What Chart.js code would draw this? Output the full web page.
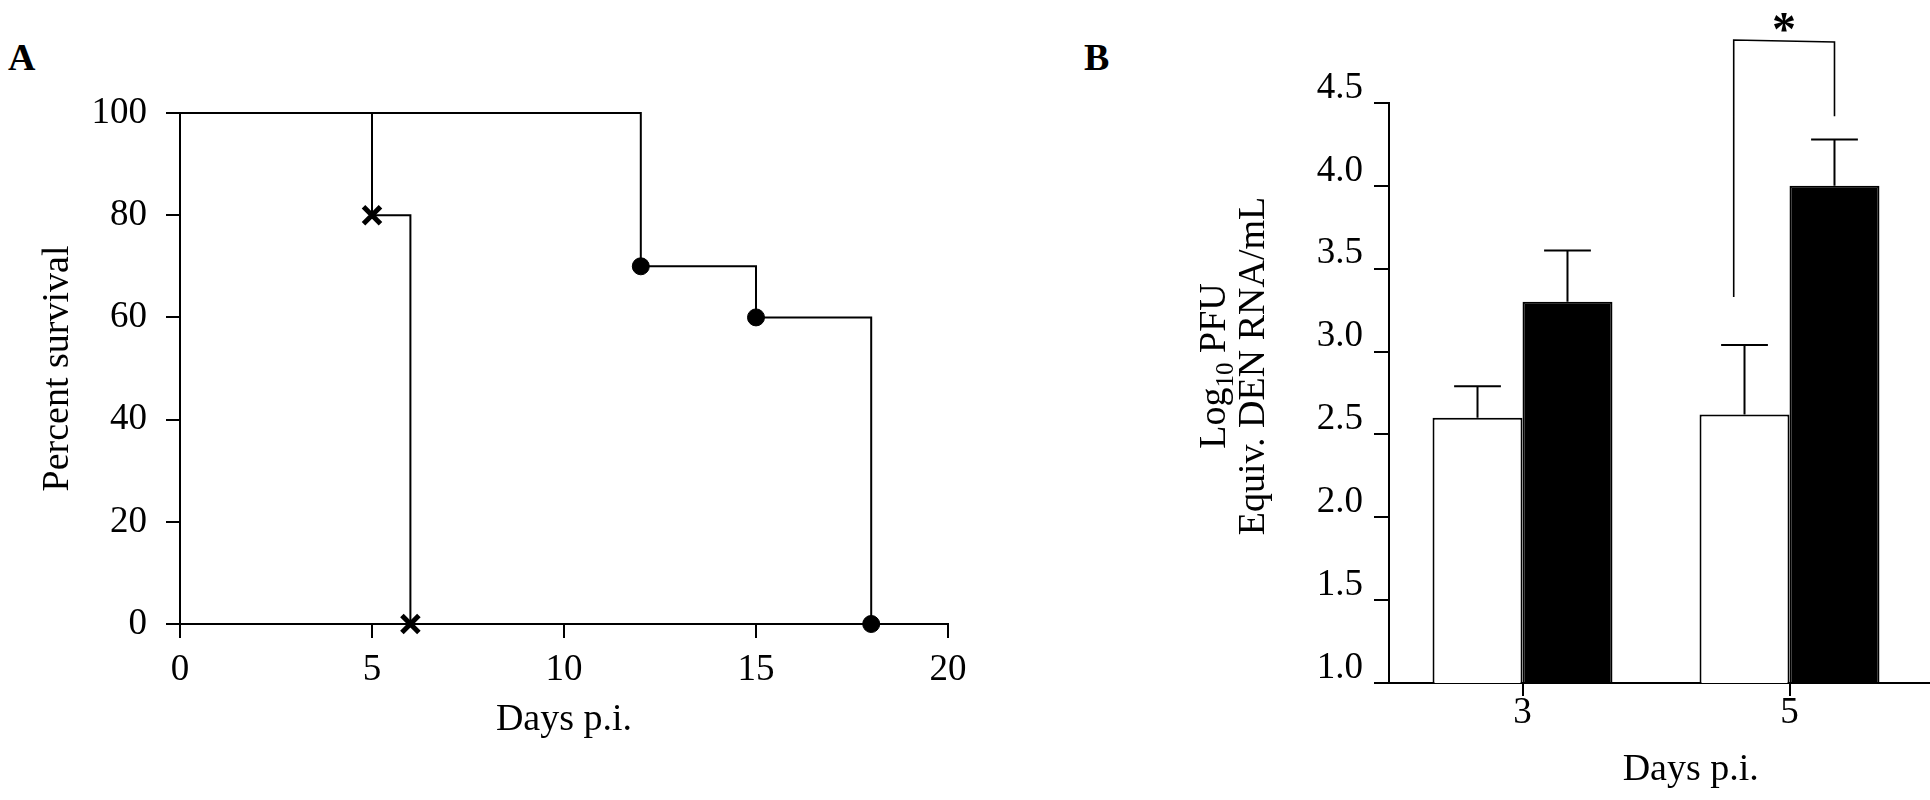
<!DOCTYPE html>
<html><head><meta charset="utf-8">
<script src="https://cdn.jsdelivr.net/npm/chart.js@4.4.1/dist/chart.umd.min.js"></script>
<style>
html,body{margin:0;padding:0;background:#fff;}
body{width:1930px;height:800px;position:relative;overflow:hidden;}
canvas{position:absolute;top:0;}
#cA{left:0;} #cB{left:1000px;}
.lbl{position:absolute;font:bold 38px "Liberation Serif";line-height:38px;color:#000;}
</style></head><body>
<div class="lbl" style="left:8px;top:38px">A</div>
<div class="lbl" style="left:1084px;top:38px">B</div>
<canvas id="cA" width="1000" height="800"></canvas>
<canvas id="cB" width="930" height="800"></canvas>
<script>
// ---------- Panel A: survival curves ----------
const survDaysCross = [0, 5, 6];
const survPctCross  = [100, 80, 0];
const survDaysDot   = [0, 12, 15, 18];
const survPctDot    = [100, 70, 60, 0];
const survXTicks    = [0, 5, 10, 15, 20];
const survYTicks    = [0, 20, 40, 60, 80, 100];

// ---------- Panel B: viremia ----------
const dayCategories = ['3', '5'];
const whiteMeans = [2.6, 2.62];
const whiteErr   = [0.19, 0.42];
const blackMeans = [3.3, 4.0];
const blackErr   = [0.31, 0.28];
const virYTicks  = [1.0, 1.5, 2.0, 2.5, 3.0, 3.5, 4.0, 4.5];
const sigBracket = [3.33, 4.88, 4.42]; // left foot, top, right foot

const FONT = 'Liberation Serif';
const tickFont = {family: FONT, size: 37};
const axisGrid = {drawOnChartArea: false, drawTicks: true, color: '#000', lineWidth: 2};
const axisBorder = {display: true, color: '#000', width: 2};

new Chart(document.getElementById('cA'), {
  type: 'line',
  data: {
    datasets: [
      {
        data: survDaysCross.map((d, i) => ({x: d, y: survPctCross[i]})),
        stepped: true, borderColor: '#000', borderWidth: 2, fill: false, clip: false,
        pointStyle: 'crossRot', pointRadius: survDaysCross.map((d, i) => i === 0 ? 0 : 12),
        pointBorderWidth: 5, pointBorderColor: '#000', pointBackgroundColor: '#000'
      },
      {
        data: survDaysDot.map((d, i) => ({x: d, y: survPctDot[i]})),
        stepped: true, borderColor: '#000', borderWidth: 2, fill: false, clip: false,
        pointStyle: 'circle', pointRadius: survDaysDot.map((d, i) => i === 0 ? 0 : 8.5),
        pointBorderWidth: 1, pointBorderColor: '#000', pointBackgroundColor: '#000'
      }
    ]
  },
  options: {
    responsive: false, animation: false, devicePixelRatio: 1,
    layout: {padding: {left: 0, right: 52, top: 113, bottom: 0}},
    plugins: {legend: {display: false}, tooltip: {enabled: false}},
    scales: {
      x: {
        type: 'linear', min: 0, max: 20,
        afterBuildTicks: s => { s.ticks = survXTicks.map(v => ({value: v})); },
        afterFit: s => { s.height = 176; },
        grid: Object.assign({tickLength: 14}, axisGrid), border: axisBorder,
        ticks: {font: tickFont, color: '#000', padding: 10, maxRotation: 0},
        title: {display: true, text: 'Days p.i.', color: '#000', font: {family: FONT, size: 38}, padding: {top: 0, bottom: 57}}
      },
      y: {
        type: 'linear', min: 0, max: 100,
        afterBuildTicks: s => { s.ticks = survYTicks.map(v => ({value: v})); },
        afterFit: s => { s.width = 180; },
        grid: Object.assign({tickLength: 14}, axisGrid), border: axisBorder,
        ticks: {font: tickFont, color: '#000', padding: 19},
        title: {display: true, text: 'Percent survival', color: '#000', font: {family: FONT, size: 38}, padding: {top: 35, bottom: 0}}
      }
    }
  }
});

const barExtras = {
  id: 'barExtras',
  afterDatasetsDraw(chart) {
    const ctx = chart.ctx;
    const ys = chart.scales.y;
    const area = chart.chartArea;
    ctx.save();
    ctx.strokeStyle = '#000';
    ctx.lineWidth = 2;
    // x-axis line runs on to the right edge of the figure
    ctx.beginPath();
    ctx.moveTo(area.right - 1, area.bottom); ctx.lineTo(chart.width, area.bottom);
    ctx.stroke();
    // error bars (upper only)
    [[0, whiteMeans, whiteErr], [1, blackMeans, blackErr]].forEach(([di, means, errs]) => {
      chart.getDatasetMeta(di).data.forEach((bar, i) => {
        const yTop = ys.getPixelForValue(means[i] + errs[i]);
        const yBar = ys.getPixelForValue(means[i]);
        const half = bar.width * 0.26;
        ctx.beginPath();
        ctx.moveTo(bar.x, yBar); ctx.lineTo(bar.x, yTop);
        ctx.moveTo(bar.x - half, yTop); ctx.lineTo(bar.x + half, yTop);
        ctx.stroke();
      });
    });
    // significance bracket between day-5 bars
    const wBar = chart.getDatasetMeta(0).data[1];
    const bBar = chart.getDatasetMeta(1).data[1];
    const xl = wBar.x - wBar.width * 0.12;
    const xr = bBar.x;
    const yl = ys.getPixelForValue(sigBracket[0]);
    const yt = ys.getPixelForValue(sigBracket[1]);
    const yr = ys.getPixelForValue(sigBracket[2]);
    ctx.lineWidth = 1.6;
    ctx.beginPath();
    ctx.moveTo(xl, yl); ctx.lineTo(xl, yt); ctx.lineTo(xr, yt + 2); ctx.lineTo(xr, yr);
    ctx.stroke();
    ctx.fillStyle = '#000';
    ctx.font = 'bold 48px "' + FONT + '"';
    ctx.textAlign = 'center';
    ctx.textBaseline = 'alphabetic';
    ctx.fillText('*', (xl + xr) / 2, yt + 5);
    // y-axis title with subscript
    const cy = 366;
    const parts = [['Log', 38, 0], ['10', 25, 8], [' PFU', 38, 0]];
    ctx.save();
    ctx.translate(225, cy);
    ctx.rotate(-Math.PI / 2);
    ctx.textAlign = 'left';
    let total = 0;
    parts.forEach(p => { ctx.font = p[1] + 'px "' + FONT + '"'; total += ctx.measureText(p[0]).width; });
    let px = -total / 2;
    parts.forEach(p => { ctx.font = p[1] + 'px "' + FONT + '"'; ctx.fillText(p[0], px, p[2]); px += ctx.measureText(p[0]).width; });
    ctx.restore();
    ctx.save();
    ctx.translate(264, cy);
    ctx.rotate(-Math.PI / 2);
    ctx.textAlign = 'center';
    ctx.font = '38px "' + FONT + '"';
    ctx.fillText('Equiv. DEN RNA/mL', 0, 0);
    ctx.restore();
    // x-axis title
    ctx.font = '38px "' + FONT + '"';
    ctx.textAlign = 'center';
    ctx.textBaseline = 'middle';
    ctx.fillText('Days p.i.', area.left + (area.right - area.left) * 0.565, 770);
    ctx.restore();
  }
};

new Chart(document.getElementById('cB'), {
  type: 'bar',
  data: {
    labels: dayCategories,
    datasets: [
      {data: whiteMeans, backgroundColor: '#fff', borderColor: '#000', borderWidth: 2},
      {data: blackMeans, backgroundColor: '#000', borderColor: '#000', borderWidth: 2}
    ]
  },
  plugins: [barExtras],
  options: {
    responsive: false, animation: false, devicePixelRatio: 1,
    layout: {padding: {left: 0, right: 7, top: 103, bottom: 0}},
    plugins: {legend: {display: false}, tooltip: {enabled: false}},
    datasets: {bar: {categoryPercentage: 0.674, barPercentage: 1.0}},
    scales: {
      x: {
        afterFit: s => { s.height = 117; },
        grid: Object.assign({tickLength: 13, offset: false}, axisGrid), border: axisBorder,
        ticks: {font: {family: FONT, size: 37, lineHeight: 0.95}, color: '#000', padding: 0, maxRotation: 0}
      },
      y: {
        type: 'linear', min: 1.0, max: 4.5,
        afterBuildTicks: s => { s.ticks = virYTicks.map(v => ({value: v})); },
        afterFit: s => { s.width = 389; },
        grid: Object.assign({tickLength: 15}, axisGrid), border: axisBorder,
        ticks: {font: tickFont, color: '#000', padding: 11, labelOffset: -15, callback: v => Number(v).toFixed(1)}
      }
    }
  }
});
</script>
</body></html>
